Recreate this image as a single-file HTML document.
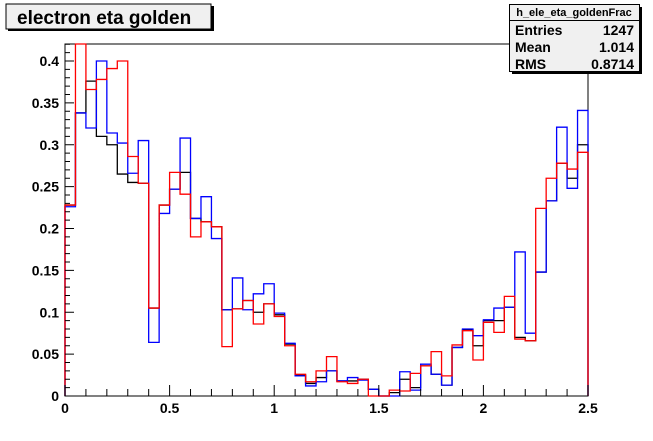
<!DOCTYPE html>
<html><head><meta charset="utf-8"><style>
body{margin:0;background:#fff;}
svg{display:block;font-family:"Liberation Sans",Arial,sans-serif;}
</style></head><body>
<svg id="chart" width="653" height="441" viewBox="0 0 653 441">
<rect width="653" height="441" fill="#fff"/>
<g id="frame"></g>
<g id="series"></g>
<g id="axes"></g>
<g>
<rect x="8" y="6" width="206" height="25" fill="#000"/>
<rect x="6" y="4" width="205" height="25" fill="#f0f0f0" stroke="#000" stroke-width="1"/>
<text x="17" y="24" font-size="19" font-weight="bold">electron eta golden</text>
</g>
<g>
<rect x="512" y="7" width="130" height="67" fill="#000"/>
<rect x="509.5" y="4.5" width="130" height="67" fill="#f0f0f0" stroke="#000"/>
<line x1="509.5" y1="20.5" x2="639.5" y2="20.5" stroke="#000"/>
<text x="574" y="16" font-size="11" text-anchor="middle" font-weight="bold">h_ele_eta_goldenFrac</text>
<text x="515" y="35" font-size="14" font-weight="bold">Entries</text>
<text x="634" y="35" font-size="14" font-weight="bold" text-anchor="end">1247</text>
<text x="515" y="52" font-size="14" font-weight="bold">Mean</text>
<text x="634" y="52" font-size="14" font-weight="bold" text-anchor="end">1.014</text>
<text x="515" y="69" font-size="14" font-weight="bold">RMS</text>
<text x="634" y="69" font-size="14" font-weight="bold" text-anchor="end">0.8714</text>
</g>
</svg>
<script>
const xMin = 0, xMax = 2.5, binWidth = 0.05;
const yTicks = [0, 0.05, 0.1, 0.15, 0.2, 0.25, 0.3, 0.35, 0.4];
const yTickLabels = ["0","0.05","0.1","0.15","0.2","0.25","0.3","0.35","0.4"];
const xTicks = [0, 0.5, 1, 1.5, 2, 2.5];
const xTickLabels = ["0","0.5","1","1.5","2","2.5"];
const blueValues = [0.226,0.338,0.320,0.400,0.314,0.302,0.266,0.305,0.064,0.218,0.247,0.308,0.212,0.238,0.188,0.103,0.141,0.103,0.122,0.134,0.099,0.063,0.024,0.012,0.017,0.030,0.018,0.022,0.019,0.008,0,0,0.029,0.007,0.038,0.026,0.013,0.058,0.080,0.072,0.091,0.105,0.106,0.172,0.075,0.148,0.233,0.321,0.248,0.341];
const redValues = [0.228,0.44,0.366,0.378,0.391,0.400,0.286,0.254,0.105,0.228,0.267,0.241,0.190,0.208,0.202,0.059,0.104,0.114,0.086,0.110,0.095,0.060,0.026,0.017,0.030,0.047,0.017,0.015,0.020,0,0,0.007,0.006,0.027,0.036,0.053,0.024,0.061,0.078,0.043,0.088,0.076,0.119,0.068,0.066,0.224,0.260,0.278,0.271,0.291];
const blackValues = [0.228,0.338,0.376,0.310,0.300,0.265,0.255,0.254,0.105,0.228,0.247,0.267,0.212,0.208,0.202,0.103,0.104,0.114,0.100,0.110,0.097,0.062,0.025,0.015,0.022,0.030,0.018,0.018,0.020,0.008,0,0.004,0.020,0.010,0.036,0.026,0.013,0.058,0.079,0.060,0.090,0.090,0.106,0.070,0.066,0.148,0.233,0.278,0.260,0.300];

const L=65,R=588,T=44,B=396,yTop=0.42;
const sx=v=>L+(v-xMin)/(xMax-xMin)*(R-L);
const sy=v=>Math.max(T,B-v/yTop*(B-T)*(yTop/0.42)*(335/352*0.42/0.4));
// 0.4 -> y=61
function syv(v){return Math.max(T, B - v*(335/0.4));}
const NS="http://www.w3.org/2000/svg";
function mk(tag,attrs,parent){const e=document.createElementNS(NS,tag);for(const k in attrs)e.setAttribute(k,attrs[k]);parent.appendChild(e);return e;}
const frame=document.getElementById('frame'),series=document.getElementById('series'),axes=document.getElementById('axes');
const fr=mk('rect',{x:L,y:T,width:R-L,height:B-T,fill:'none',stroke:'#000','stroke-width':1},frame);



function step(vals,color,name){
  let d='M'+sx(xMin)+' '+B;
  vals.forEach((v,i)=>{const x0=sx(xMin+i*binWidth),x1=sx(xMin+(i+1)*binWidth),y=syv(v);d+=' L'+x0+' '+y+' L'+x1+' '+y;});
  d+=' L'+sx(xMin+vals.length*binWidth)+' '+B;
  const p=mk('path',{d:d,fill:'none',stroke:color,'stroke-width':1.3},series);
  
  
}
step(blackValues,'#000','series-black');
step(blueValues,'#0000ff','series-blue');
step(redValues,'#ff0000','series-red');

// y ticks
for(let v=0;v<=0.42001;v+=0.01){
  const y=syv(v);const major=Math.abs(v/0.05-Math.round(v/0.05))<1e-6;
  const t=mk('line',{x1:L,x2:L+(major?9:5),y1:y,y2:y,stroke:'#000'},axes);
  
  
}
yTicks.forEach((v,i)=>{
  const t=mk('text',{x:L-6,y:syv(v)+5,'font-size':14,'font-weight':'bold','text-anchor':'end'},axes);
  t.textContent=yTickLabels[i];
  
  
});
// x ticks
for(let k=0;k<=50;k++){
  const v=k*0.05;const x=sx(v);
  const len=(k%10===0)?11:(k%2===0?7:0);
  if(!len)continue;
  const t=mk('line',{x1:x,x2:x,y1:B,y2:B-len,stroke:'#000'},axes);
  
  
}
xTicks.forEach((v,i)=>{
  const t=mk('text',{x:sx(v),y:413,'font-size':14,'font-weight':'bold','text-anchor':'middle'},axes);
  t.textContent=xTickLabels[i];
  
  
});
</script>
</body></html>
